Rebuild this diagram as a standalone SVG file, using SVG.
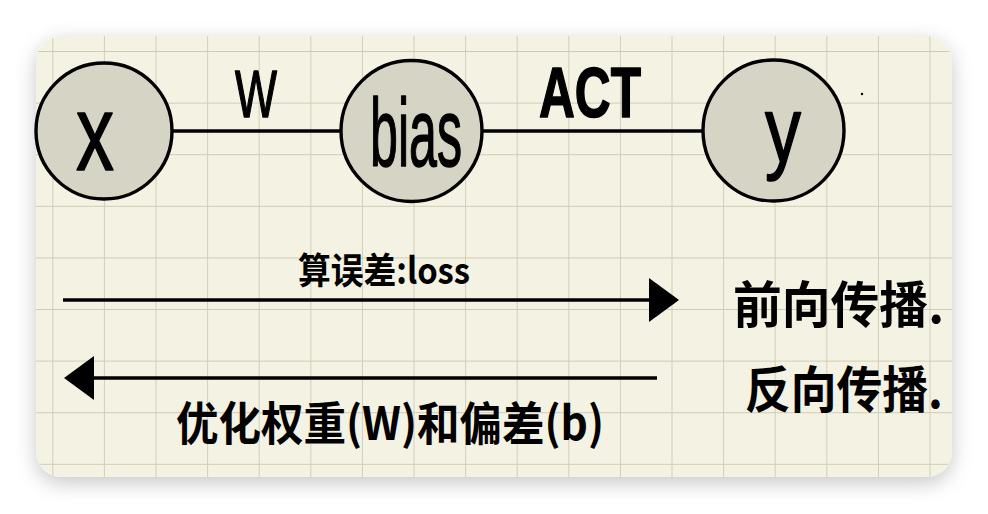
<svg xmlns="http://www.w3.org/2000/svg" width="988" height="514" viewBox="0 0 988 514">
  <defs>
    <filter id="shadow" x="-10%" y="-20%" width="120%" height="140%">
      <feDropShadow dx="0" dy="6" stdDeviation="10" flood-color="#000" flood-opacity="0.22"/>
    </filter>
    <pattern id="grid" x="1.7" y="0.4" width="51.6" height="51.6" patternUnits="userSpaceOnUse">
      <path d="M51.6 0 V51.6 M0 51.6 H51.6" fill="none" stroke="#cfcbb7" stroke-width="1.8"/>
    </pattern>
    <clipPath id="cardclip">
      <rect x="36" y="36" width="916" height="441" rx="26"/>
    </clipPath>
    <marker id="arrow" viewBox="0 0 30 44" refX="2" refY="22" markerWidth="30" markerHeight="44" markerUnits="userSpaceOnUse" orient="auto">
      <path d="M0 0 L30 22 L0 44 Z" fill="#000"/>
    </marker>
  </defs>
  <style>
    .node circle { fill: #d6d4c4; stroke: #000; stroke-width: 3.4; }
    .conn { stroke: #000; stroke-width: 3.4; fill: none; }
    .hand { font-family: "Liberation Sans", "Noto Sans CJK SC", sans-serif; fill: #000; stroke: #000; stroke-width: 1.5; stroke-linejoin: round; }
    .cjk { font-family: "Noto Sans CJK SC", "Liberation Sans", sans-serif; font-weight: bold; fill: #000; }
  </style>
  <rect width="988" height="514" fill="#ffffff"/>
  <rect x="36" y="36" width="916" height="441" rx="26" fill="#f4f2e2" filter="url(#shadow)"/>
  <g clip-path="url(#cardclip)">
    <rect x="36" y="36" width="916" height="441" fill="url(#grid)"/>
  </g>

  <g id="connectors">
    <line class="conn" x1="172" y1="131" x2="341" y2="131"/>
    <line class="conn" x1="482" y1="131" x2="703" y2="131"/>
    <line class="conn" x1="63" y1="300" x2="651" y2="300" marker-end="url(#arrow)"/>
    <line class="conn" x1="657" y1="378" x2="92" y2="378" marker-end="url(#arrow)"/>
    <text class="hand" x="235" y="117" font-size="66" textLength="42" lengthAdjust="spacingAndGlyphs">W</text>
    <text class="hand" x="539" y="117" font-size="70" font-weight="bold" textLength="102" lengthAdjust="spacingAndGlyphs">ACT</text>
    <text class="cjk" x="298" y="284" font-size="36" textLength="172" lengthAdjust="spacingAndGlyphs">算误差:loss</text>
    <text class="cjk" x="176" y="440" font-size="46" textLength="428" lengthAdjust="spacingAndGlyphs">优化权重(W)和偏差(b)</text>
  </g>

  <g id="node-x" class="node">
    <circle cx="104" cy="131" r="68"/>
    <text class="hand" x="76" y="170" font-size="108" textLength="38" lengthAdjust="spacingAndGlyphs">x</text>
  </g>
  <g id="node-bias" class="node">
    <circle cx="411.5" cy="131" r="70.5"/>
    <text class="hand" x="370" y="166" font-size="96" textLength="92" lengthAdjust="spacingAndGlyphs">bias</text>
  </g>
  <g id="node-y" class="node">
    <circle cx="773.5" cy="130.5" r="70.5"/>
    <text class="hand" x="765" y="162" font-size="92" textLength="36" lengthAdjust="spacingAndGlyphs">y</text>
  </g>

  <g id="label-forward">
    <text class="cjk" x="733" y="323" font-size="50" textLength="211" lengthAdjust="spacingAndGlyphs">前向传播.</text>
  </g>
  <g id="label-backward">
    <text class="cjk" x="745" y="408" font-size="50" textLength="198" lengthAdjust="spacingAndGlyphs">反向传播.</text>
  </g>
  <circle cx="862" cy="94" r="1.2" fill="#000"/>
</svg>
